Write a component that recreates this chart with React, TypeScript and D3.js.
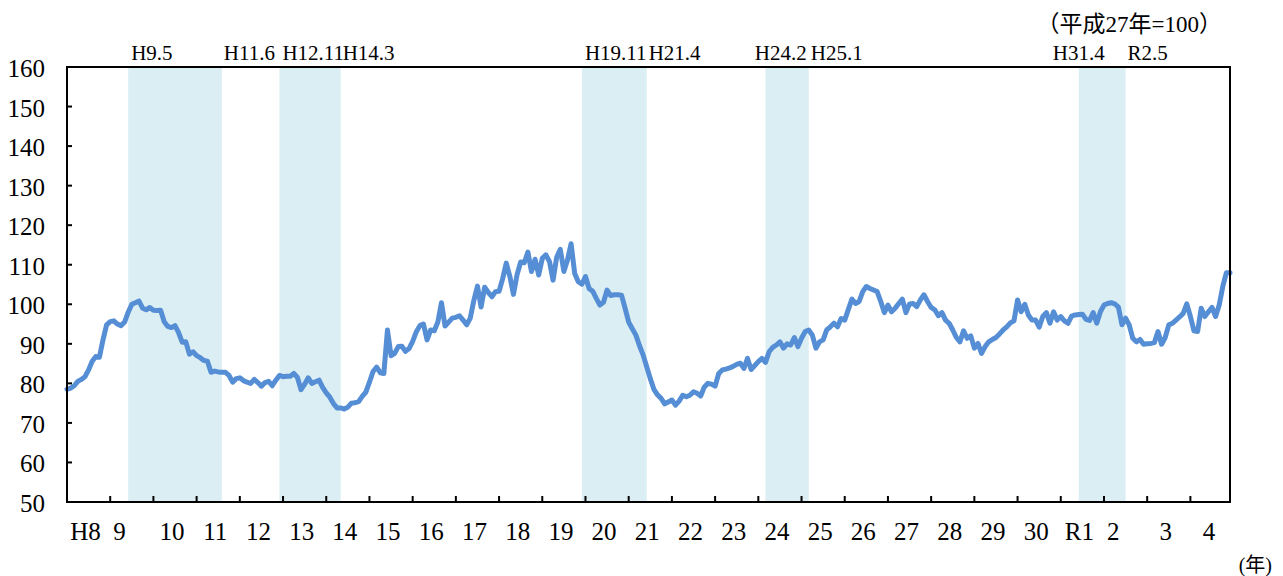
import React from 'react';
import * as d3 from 'd3';

// monthly index (H27=100), Jan 1996 .. Dec 2022
const valuesH8toH12 = [
  78.5, 78.8, 79.4, 80.5, 81.0, 81.7, 83.4, 85.6, 86.8, 86.6, 91.0, 94.8,
  95.6, 95.8, 95.0, 94.6, 95.5, 98.0, 100.0, 100.4, 100.8, 99.0, 98.6, 99.2,
  98.5, 98.4, 98.5, 95.6, 94.4, 94.1, 94.6, 92.8, 90.4, 90.5, 87.4, 88.0,
  87.0, 86.5, 85.8, 85.6, 82.8, 83.1, 82.9, 82.8, 82.8, 82.0, 80.3, 81.2,
  81.4, 80.7, 80.3, 80.0, 81.0, 80.2, 79.3, 80.2, 80.5, 79.4, 80.8, 82.0,
];
const valuesH13toH17 = [
  81.7, 81.8, 81.8, 82.5, 81.5, 78.4, 79.8, 81.4, 80.0, 80.4, 80.8, 79.0,
  77.6, 76.5, 74.9, 73.8, 73.8, 73.5, 74.0, 75.0, 75.1, 75.4, 76.7, 77.8,
  80.3, 83.0, 84.1, 82.7, 82.5, 93.5, 87.0, 87.6, 89.3, 89.4, 88.1, 88.8,
  90.6, 93.0, 94.6, 95.0, 91.0, 93.5, 93.3, 95.5, 100.4, 94.5, 95.5, 96.5,
  96.7, 97.1, 96.0, 94.8, 96.5, 101.0, 104.6, 99.3, 104.3, 103.0, 101.9, 103.2,
];
const valuesH18toH22 = [
  103.3, 106.5, 110.4, 107.0, 102.5, 107.5, 110.7, 110.5, 113.2, 108.3, 111.4, 107.4,
  111.6, 112.5, 110.8, 106.1, 111.9, 113.9, 108.3, 111.2, 115.3, 107.8, 105.7, 105.1,
  107.0, 104.0, 103.3, 101.5, 99.8, 100.5, 103.6, 102.2, 102.4, 102.4, 102.3, 99.0,
  95.5, 93.8, 92.2, 89.5, 87.2, 84.2, 81.2, 78.5, 77.1, 76.2, 74.8, 75.3,
  75.8, 74.5, 75.5, 77.0, 76.6, 77.0, 77.9, 77.5, 76.8, 79.1, 80.0, 79.8,
];
const valuesH23toH27 = [
  79.3, 82.5, 83.4, 83.6, 83.9, 84.3, 84.8, 85.1, 83.8, 86.3, 83.5, 84.5,
  85.5, 86.3, 85.3, 88.0, 89.1, 89.7, 90.5, 88.9, 90.0, 89.7, 91.6, 89.3,
  91.4, 93.1, 93.5, 92.2, 88.9, 90.5, 91.0, 93.5, 94.3, 95.2, 94.3, 96.4,
  96.0, 98.7, 101.3, 100.2, 100.7, 103.2, 104.5, 104.0, 103.6, 103.2, 100.7, 97.9,
  99.8, 98.1, 99.0, 100.2, 101.3, 97.9, 100.1, 100.2, 99.4, 101.1, 102.4, 100.7,
];
const valuesH28toR2 = [
  99.2, 98.6, 97.1, 97.9, 96.0, 95.2, 93.5, 91.6, 90.5, 93.3, 91.4, 92.0,
  88.9, 90.1, 87.6, 89.3, 90.5, 91.1, 91.6, 92.5, 93.5, 94.3, 95.3, 95.8,
  101.1, 98.1, 100.0, 97.3, 96.0, 96.0, 94.2, 96.9, 97.9, 95.2, 98.1, 96.0,
  96.9, 95.8, 95.2, 97.0, 97.3, 97.4, 97.5, 96.2, 95.9, 97.9, 95.2, 98.1,
  99.8, 100.2, 100.4, 100.1, 99.3, 94.8, 96.5, 94.8, 91.4, 90.5, 91.1, 89.9,
];
const valuesR3toR4 = [
  90.0, 90.1, 90.3, 93.1, 89.9, 91.6, 94.8, 95.2, 96.0, 96.8, 97.7, 100.1,
  96.9, 93.3, 93.1, 99.0, 96.9, 98.1, 99.2, 96.9, 99.8, 104.5, 108.0, 108.0,
];

// trailing spaces as in the source sheet (they shift the centred text)
const yearLabels = [
  'H8', '9   ', '10', '11', '12', '13', '14', '15', '16', '17', '18', '19', '20',
  '21', '22', '23', '24', '25', '26', '27', '28', '29', '30', 'R1', '2   ', '3', '4',
];
const yTicks = [50, 60, 70, 80, 90, 100, 110, 120, 130, 140, 150, 160];

// shaded periods (as drawn) and their peak / trough labels
const bandFrom = ['1997-06', '2000-12', '2007-12', '2012-03', '2019-06'];
const bandTo = ['1999-08', '2002-05', '2009-06', '2013-03', '2020-07'];
const peakLabels = ['H9.5', 'H12.11', 'H19.11', 'H24.2', 'H31.4'];
const troughLabels = ['H11.6', 'H14.3', 'H21.4', 'H25.1', 'R2.5'];
const peakAlign = ['start', 'start', 'start', 'end', 'middle'];

const firstYear = 1996;
const monthIndex = (s: string) => {
  const [y, m] = s.split('-').map(Number);
  return (y - firstYear) * 12 + (m - 1);
};

const W = 1283;
const H = 576;
const left = 67;
const right = 1230;
const top = 67;
const bottom = 502;

const serif = '"Liberation Serif", "Noto Sans CJK JP", serif';

export default function App() {
  const values = [
    ...valuesH8toH12, ...valuesH13toH17, ...valuesH18toH22,
    ...valuesH23toH27, ...valuesH28toR2, ...valuesR3toR4,
  ].slice(0, 324);

  const x = d3.scaleLinear().domain([0, 323]).range([left, right]);
  const y = d3.scaleLinear().domain([50, 160]).range([bottom, top]);

  const line = d3.line<number>()
    .x((_, i) => x(i))
    .y(d => y(d))
    .curve(d3.curveLinear);

  const bands = bandFrom.map((f, i) => ({
    x0: x(monthIndex(f)),
    x1: x(monthIndex(bandTo[i])),
  }));

  return (
    <svg width={W} height={H} style={{ position: 'absolute', left: 0, top: 0, background: '#fff' }}>
      {bands.map((b, i) => (
        <rect key={'b' + i} x={b.x0} y={top} width={b.x1 - b.x0} height={bottom - top} fill="#DAEEF3" />
      ))}

      {/* peak / trough labels */}
      {bands.map((b, i) => {
        const a = peakAlign[i];
        const px = a === 'start' ? b.x0 + 3 : a === 'end' ? b.x1 - 2 : b.x0;
        return (
          <g key={'l' + i} fontFamily={serif} fontSize={21} fill="#000">
            <text x={px} y={60} textAnchor={a}>{peakLabels[i]}</text>
            <text x={b.x1 + 2} y={60} textAnchor="start">{troughLabels[i]}</text>
          </g>
        );
      })}

      <path d={line(values) || ''} fill="none" stroke="#558ED5" strokeWidth={5}
        strokeLinejoin="round" strokeLinecap="round" />

      {/* frame */}
      <rect x={left} y={top} width={right - left} height={bottom - top} fill="none" stroke="#000" strokeWidth={2} />

      {/* y axis */}
      {yTicks.map(t => (
        <g key={'y' + t}>
          <line x1={left} x2={left + 5} y1={y(t)} y2={y(t)} stroke="#000" strokeWidth={2} />
          <text x={45} y={y(t) + 10} textAnchor="end" fontFamily={serif} fontSize={25}>{t}</text>
        </g>
      ))}

      {/* x axis */}
      {d3.range(1, yearLabels.length).map(k => (
        <line key={'t' + k} x1={x(k * 12)} x2={x(k * 12)} y1={bottom} y2={bottom - 6} stroke="#000" strokeWidth={2} />
      ))}
      {yearLabels.map((l, k) => (
        <text key={'x' + k} x={x(k * 12 + 6) - 3} y={540} textAnchor="middle" fontFamily={serif}
          fontSize={25} style={{ whiteSpace: 'pre' }}>{l}</text>
      ))}

      <text x={1222} y={32} textAnchor="end" fontFamily={serif} fontSize={23}>（平成27年=100）</text>
      <text x={1272} y={572} textAnchor="end" fontFamily={serif} fontSize={20}>(年)</text>
    </svg>
  );
}
